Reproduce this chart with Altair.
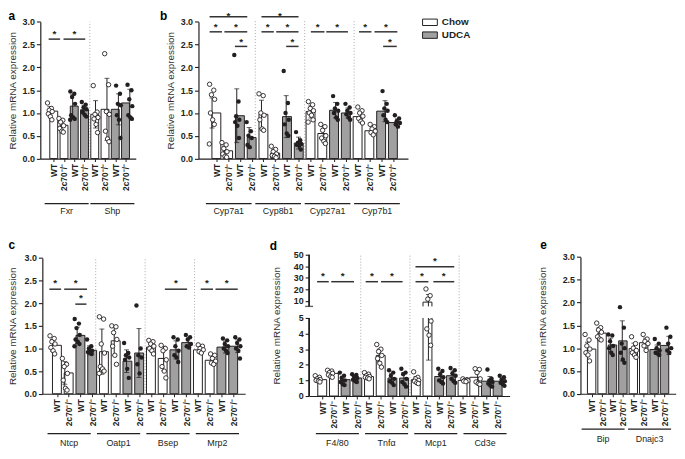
import altair as alt
import pandas as pd

FONT = "Liberation Sans"
INK = "#231f20"
BAR_GRAY = "#a0a0a0"
SEP_GRAY = "#a8a8a8"
W, H = 677, 445

GENO = ["WT", "2c70\u207b/\u207b"]
DIET = ["Chow", "UDCA"]
JITTER = [-0.2, 0.14, -0.05, 0.21, -0.13, 0.05, 0.18, -0.22]
YTITLE = "Relative mRNA expression"

# ---------------- panel a ----------------
a_genes = ["Fxr", "Shp"]
a_means = [1.04, 0.73, 1.15, 1.07, 0.97, 1.08, 1.08, 1.22]
a_sds = [0.10, 0.10, 0.25, 0.10, 0.30, 0.68, 0.34, 0.30]
a_points = [
    [1.22, 1.10, 1.06, 1.03, 0.98, 0.92, 0.85],
    [0.88, 0.84, 0.80, 0.72, 0.66, 0.60, 0.58],
    [1.47, 1.42, 1.35, 1.20, 0.95, 0.90, 0.87, 0.85],
    [1.24, 1.18, 1.12, 1.08, 1.02, 0.96, 0.92],
    [1.60, 1.02, 0.97, 0.90, 0.87, 0.75, 0.57],
    [2.30, 1.62, 1.03, 0.97, 0.60, 0.43, 0.37],
    [1.60, 1.42, 1.20, 1.17, 0.95, 0.85, 0.45],
    [1.62, 1.50, 1.30, 1.15, 0.95, 0.90, 0.87],
]
a_sig = [(-0.1, 0.9, 2.62, 2.78), (1.2, 3.1, 2.62, 2.78)]

# ---------------- panel b ----------------
b_genes = ["Cyp7a1", "Cyp8b1", "Cyp27a1", "Cyp7b1"]
b_means = [1.00, 0.17, 0.94, 0.46, 0.97, 0.12, 0.92, 0.34,
           1.03, 0.55, 1.06, 1.00, 0.92, 0.61, 1.04, 0.79]
b_sds = [0.33, 0.10, 0.59, 0.22, 0.31, 0.08, 0.46, 0.13,
         0.14, 0.15, 0.17, 0.11, 0.12, 0.07, 0.23, 0.08]
b_points = [
    [1.63, 1.50, 1.40, 1.30, 1.00, 0.85, 0.75, 0.32],
    [0.35, 0.30, 0.22, 0.15, 0.10, 0.05, 0.03],
    [2.27, 1.25, 0.93, 0.85, 0.80, 0.72, 0.45],
    [0.80, 0.60, 0.50, 0.45, 0.30, 0.25],
    [1.42, 1.38, 1.00, 0.95, 0.85, 0.65, 0.62],
    [0.27, 0.20, 0.15, 0.10, 0.07, 0.05, 0.02],
    [1.92, 1.22, 1.00, 0.85, 0.75, 0.55, 0.50],
    [0.58, 0.40, 0.35, 0.32, 0.30, 0.28, 0.20],
    [1.25, 1.18, 1.10, 1.05, 1.00, 0.95, 0.85, 0.80],
    [0.75, 0.70, 0.62, 0.50, 0.45, 0.38, 0.33],
    [1.37, 1.20, 1.10, 1.05, 1.00, 0.90, 0.85],
    [1.20, 1.12, 1.05, 1.00, 0.97, 0.90, 0.85],
    [1.13, 1.05, 1.00, 0.93, 0.88, 0.82, 0.78],
    [0.75, 0.70, 0.65, 0.60, 0.57, 0.52],
    [1.48, 1.20, 1.10, 1.05, 0.95, 0.85, 0.80],
    [0.95, 0.88, 0.82, 0.78, 0.75, 0.70],
]
b_sig = [(-0.2, 2.85, 3.11, 3.17), (-0.2, 0.8, 2.78, 2.95), (1.0, 2.85, 2.78, 2.95),
         (1.85, 2.85, 2.46, 2.62),
         (4.0, 7.0, 3.11, 3.17), (4.0, 5.0, 2.78, 2.95), (5.2, 7.0, 2.78, 2.95),
         (6.0, 7.0, 2.46, 2.62),
         (8.0, 9.1, 2.78, 2.95), (9.25, 11.0, 2.78, 2.95),
         (11.9, 12.9, 2.78, 2.95), (13.15, 15.0, 2.78, 2.95), (13.85, 14.95, 2.46, 2.62)]

# ---------------- panel c ----------------
c_genes = ["Ntcp", "Oatp1", "Bsep", "Mrp2"]
c_means = [1.07, 0.46, 1.29, 0.96, 0.93, 1.17, 0.72, 0.90,
           1.03, 0.78, 0.97, 1.13, 0.97, 0.74, 1.03, 1.05]
c_sds = [0.13, 0.25, 0.18, 0.10, 0.50, 0.32, 0.25, 0.54,
         0.10, 0.27, 0.20, 0.10, 0.07, 0.08, 0.13, 0.14]
c_points = [
    [1.28, 1.22, 1.15, 1.10, 1.02, 0.95, 0.88],
    [0.78, 0.65, 0.60, 0.45, 0.30, 0.12, 0.08],
    [1.65, 1.55, 1.45, 1.30, 1.20, 1.15, 1.10, 1.05],
    [1.20, 1.05, 1.00, 0.95, 0.92, 0.90, 0.88],
    [1.70, 1.65, 1.10, 0.90, 0.60, 0.55, 0.50, 0.45],
    [1.50, 1.48, 1.35, 1.20, 1.05, 0.85, 0.65],
    [1.12, 0.90, 0.85, 0.80, 0.75, 0.55, 0.35],
    [1.95, 1.00, 0.85, 0.80, 0.65, 0.45],
    [1.18, 1.15, 1.10, 1.05, 1.00, 0.95, 0.88],
    [1.07, 1.00, 0.95, 0.75, 0.60, 0.50, 0.35],
    [1.25, 1.20, 1.05, 0.95, 0.85, 0.80, 0.70],
    [1.30, 1.25, 1.20, 1.10, 1.05, 1.02],
    [1.08, 1.05, 1.00, 0.97, 0.93, 0.90],
    [0.88, 0.85, 0.78, 0.72, 0.68, 0.65],
    [1.22, 1.18, 1.10, 1.05, 1.00, 0.95, 0.90],
    [1.25, 1.20, 1.12, 1.05, 1.00, 0.95, 0.78],
]
c_sig = [(-0.25, 0.7, 2.31, 2.49), (0.95, 2.8, 2.31, 2.49), (1.85, 2.75, 1.98, 2.18),
         (9.1, 10.9, 2.31, 2.49), (12.0, 13.0, 2.31, 2.49), (13.2, 15.0, 2.31, 2.49)]

# ---------------- panel d ----------------
d_genes = ["F4/80", "Tnf\u03b1", "Mcp1", "Cd3e"]
d_means = [1.05, 1.45, 1.05, 1.15, 1.25, 2.60, 1.15, 1.15,
           1.05, 8.90, 1.25, 1.30, 1.00, 1.20, 0.95, 0.95]
d_sds = [0.12, 0.12, 0.22, 0.15, 0.12, 0.40, 0.30, 0.35,
         0.20, 6.60, 0.30, 0.30, 0.06, 0.35, 0.30, 0.20]
d_points = [
    [1.30, 1.20, 1.10, 1.05, 1.00, 0.95, 0.90],
    [1.65, 1.60, 1.50, 1.45, 1.35, 1.25, 1.20],
    [1.50, 1.30, 1.15, 1.00, 0.90, 0.75, 0.70],
    [1.40, 1.35, 1.25, 1.15, 1.05, 0.95, 0.90],
    [1.50, 1.40, 1.30, 1.25, 1.20, 1.15, 1.10],
    [3.30, 3.00, 2.85, 2.60, 2.40, 2.10, 1.85],
    [1.65, 1.50, 1.30, 1.10, 0.95, 0.85, 0.70],
    [1.75, 1.50, 1.40, 1.10, 0.90, 0.75, 0.60],
    [1.55, 1.20, 1.10, 1.00, 0.95, 0.85, 0.80],
    [20.3, 14.5, 11.5, 4.80, 4.30, 3.90, 3.25],
    [1.75, 1.60, 1.40, 1.20, 1.00, 0.90, 0.80],
    [1.80, 1.65, 1.45, 1.30, 1.10, 0.95, 0.85],
    [1.10, 1.05, 1.00, 0.98, 0.95, 0.92],
    [1.75, 1.70, 1.50, 1.10, 0.90, 0.80, 0.75],
    [1.70, 1.10, 1.00, 0.90, 0.80, 0.65, 0.60],
    [1.30, 1.20, 1.05, 0.95, 0.85, 0.75, 0.65],
]
d_sig = [(-0.05, 0.9, 26.6, 34.0), (1.1, 2.95, 26.6, 34.0),
         (3.9, 4.9, 26.6, 34.0), (5.15, 6.9, 26.6, 34.0),
         (7.95, 9.0, 26.6, 34.0), (9.4, 11.1, 26.6, 34.0), (7.95, 11.1, 39.5, 46.3)]
d_break = [5.0, 5.2]

# ---------------- panel e ----------------
e_genes = ["Bip", "Dnajc3"]
e_means = [0.98, 1.33, 1.07, 1.16, 0.99, 1.12, 0.97, 1.06]
e_sds = [0.15, 0.12, 0.15, 0.44, 0.12, 0.10, 0.10, 0.20]
e_points = [
    [1.30, 1.18, 1.05, 0.98, 0.90, 0.85, 0.72],
    [1.55, 1.45, 1.40, 1.35, 1.25, 1.20, 1.18],
    [1.30, 1.28, 1.15, 1.05, 1.00, 0.90, 0.85],
    [1.90, 1.45, 1.10, 1.00, 0.90, 0.75, 0.68],
    [1.25, 1.10, 1.00, 0.95, 0.90, 0.85, 0.80],
    [1.30, 1.20, 1.15, 1.10, 1.05, 0.95],
    [1.20, 1.10, 1.00, 0.95, 0.90, 0.88, 0.85],
    [1.45, 1.25, 1.10, 1.00, 0.95, 0.90],
]
e_sig = []

Y3 = [0, 0.5, 1.0, 1.5, 2.0, 2.5, 3.0]
YD = [0, 1, 2, 3, 4, 5, 10, 20, 30, 40, 50]

LEGEND = alt.Legend(
    title=None, orient="none", legendX=420, legendY=4.8, direction="vertical",
    symbolType="M-1.15,-0.5H1.15V0.5H-1.15Z", symbolSize=169,
    symbolStrokeColor=INK, symbolStrokeWidth=1,
    labelFont=FONT, labelFontSize=10, labelFontWeight="bold", labelColor=INK,
    labelOffset=5, rowPadding=0, padding=0,
)


def make_panel(genes, means, sds, points, sig, geo):
    n = len(means)
    xs = alt.Scale(domain=geo["xdom"], range=geo["xrange"], nice=False, zero=False)
    ys = alt.Scale(domain=geo["ydom"], range=geo["yrange"], nice=False, zero=False)
    xl = geo["xrange"][0]
    ybot = geo["yrange"][0]

    bdf = pd.DataFrame({
        "slot": list(range(n)),
        "diet": [DIET[(i % 4) // 2] for i in range(n)],
        "mean": means,
        "lo": [m - s for m, s in zip(means, sds)],
        "hi": [m + s for m, s in zip(means, sds)],
    })
    prow = []
    for i, vals in enumerate(points):
        for j, v in enumerate(vals):
            prow.append({"px": i + JITTER[j % len(JITTER)], "v": v, "diet": DIET[(i % 4) // 2]})
    pdf = pd.DataFrame(prow)
    sdf = pd.DataFrame(sig, columns=["x1", "x2", "y", "ya"])
    sdf["xm"] = (sdf["x1"] + sdf["x2"]) / 2
    g0, g1 = geo["under_span"]
    gdf = pd.DataFrame({
        "gene": genes,
        "g0": [4 * k + g0 for k in range(len(genes))],
        "g1": [4 * k + g1 for k in range(len(genes))],
        "gm": [4 * k + (g0 + g1) / 2 for k in range(len(genes))],
    })

    xaxis = alt.Axis(
        orient="bottom", offset=ybot - H, values=list(range(n)),
        labelExpr=f"datum.value % 2 == 0 ? '{GENO[0]}' : '{GENO[1]}'",
        labelAngle=-90, labelAlign="right", labelBaseline="middle",
        labelFlush=False, labelOverlap=False, labelPadding=2,
        labelFont=FONT, labelFontSize=8.5, labelFontWeight="bold", labelColor=INK,
        tickSize=3, tickColor=INK, tickWidth=1, domainColor=INK, domainWidth=1.2,
        grid=False, title=None,
    )
    yaxis = alt.Axis(
        orient="left", offset=-xl, values=geo["yticks"], format=geo["yfmt"],
        labelFlush=False, labelOverlap=False, labelPadding=2,
        labelFont=FONT, labelFontSize=9, labelFontWeight="bold", labelColor=INK,
        tickSize=4, tickColor=INK, tickWidth=1.1,
        domain=not geo.get("broken", False), domainColor=INK, domainWidth=1.2,
        grid=False, title=YTITLE, titleFont=FONT, titleFontSize=10,
        titleFontWeight="normal", titleColor="#333333", titlePadding=geo["title_pad"],
    )

    X = lambda f: alt.X(f, type="quantitative", scale=xs, axis=None)
    Y = lambda f: alt.Y(f, type="quantitative", scale=ys, axis=None)

    layers = []
    if geo["sep_top"] is not None and len(genes) > 1:
        sepdf = pd.DataFrame({"x": [4 * k - 0.5 for k in range(1, len(genes))],
                              "y0": geo["ydom"][0], "y1": geo["sep_top"]})
        layers.append(alt.Chart(sepdf).mark_rule(color=SEP_GRAY, strokeDash=[1, 2], strokeWidth=1)
                      .encode(x=X("x"), y=Y("y0"), y2="y1"))
    layers.append(
        alt.Chart(bdf).mark_bar(size=geo["bar_px"], stroke=INK, strokeWidth=1, orient="vertical")
        .encode(
            x=alt.X("slot:Q", scale=xs, axis=xaxis),
            y=alt.Y("mean:Q", scale=ys, axis=yaxis, stack=None),
            fill=alt.Fill("diet:N", scale=alt.Scale(domain=DIET, range=["white", BAR_GRAY]), legend=LEGEND),
        )
    )
    layers.append(alt.Chart(bdf).mark_rule(color=INK, strokeWidth=1)
                  .encode(x=X("slot"), y=Y("lo"), y2="hi"))
    for f in ["lo", "hi"]:
        layers.append(alt.Chart(bdf).mark_tick(orient="horizontal", size=5, thickness=1, color=INK)
                      .encode(x=X("slot"), y=Y(f)))
    if geo.get("broken", False):
        lo_b, hi_b = d_break
        wdf = bdf[bdf["mean"] > hi_b].assign(b0=lo_b, b1=hi_b)
        layers.append(alt.Chart(wdf).mark_bar(size=geo["bar_px"] + 3, color="white", orient="vertical")
                      .encode(x=X("slot"), y=Y("b1"), y2="b0"))
        ddf = pd.DataFrame({"xe": [geo["xdom"][0]] * 2, "y0": [geo["ydom"][0], hi_b],
                            "y1": [lo_b, geo["ydom"][-1]]})
        layers.append(alt.Chart(ddf).mark_rule(color=INK, strokeWidth=1.8)
                      .encode(x=X("xe"), y=Y("y0"), y2="y1"))
        layers.append(alt.Chart(ddf.iloc[[1]]).mark_tick(orient="horizontal", size=8, thickness=1.4, color=INK)
                      .encode(x=X("xe"), y=Y("y0")))
    layers.append(
        alt.Chart(pdf).transform_filter(alt.datum.diet == "Chow")
        .mark_point(shape="circle", filled=True, fill="white", stroke=INK, strokeWidth=0.9, size=20, opacity=1)
        .encode(x=X("px"), y=Y("v"))
    )
    layers.append(
        alt.Chart(pdf).transform_filter(alt.datum.diet == "UDCA")
        .mark_circle(color=INK, size=20, opacity=1)
        .encode(x=X("px"), y=Y("v"))
    )
    if len(sdf):
        layers.append(alt.Chart(sdf).mark_rule(color="#333333", strokeWidth=1.5)
                      .encode(x=X("x1"), x2="x2", y=Y("y")))
        layers.append(alt.Chart(sdf).mark_text(text="*", font=FONT, fontSize=10, fontWeight="bold",
                                               baseline="alphabetic", dy=5.5, color=INK)
                      .encode(x=X("xm"), y=Y("ya")))
    layers.append(alt.Chart(gdf).mark_rule(color=INK, strokeWidth=1.2)
                  .encode(x=X("g0"), x2="g1", y=alt.value(geo["under_y"])))
    layers.append(alt.Chart(gdf).mark_text(font=FONT, fontSize=9, color=INK, baseline="alphabetic")
                  .encode(x=X("gm"), y=alt.value(geo["label_y"]), text="gene:N"))
    layers.append(alt.Chart(pd.DataFrame({"t": [geo["letter"]]}))
                  .mark_text(font=FONT, fontSize=12, fontWeight="bold", align="left",
                             baseline="alphabetic", color="black")
                  .encode(x=alt.value(geo["letter_xy"][0]), y=alt.value(geo["letter_xy"][1]), text="t:N"))
    return layers


geo_a = dict(xdom=[-0.83, 7.52], xrange=[32.7, 129.3], ydom=[0, 3], yrange=[149.7, 11.3],
             yticks=Y3, yfmt=".1f", bar_px=8, title_pad=4.7, sep_top=3.0,
             under_span=(-0.45, 3.4), under_y=195.3, label_y=206, letter="a", letter_xy=(0.5, 9.5))
geo_b = dict(xdom=[-1.1, 15.86], xrange=[192.75, 404.75], ydom=[0, 3], yrange=[149.7, 11.3],
             yticks=Y3, yfmt=".1f", bar_px=9, title_pad=4.7, sep_top=3.05,
             under_span=(-0.5, 3.2), under_y=195.3, label_y=206, letter="b", letter_xy=(153.7, 9.5))
geo_c = dict(xdom=[-0.82, 15.6], xrange=[34.75, 240.0], ydom=[0, 3], yrange=[387.7, 250.3],
             yticks=Y3, yfmt=".1f", bar_px=9, title_pad=6.7, sep_top=3.0,
             under_span=(-0.4, 3.1), under_y=428, label_y=441, letter="c", letter_xy=(0.5, 241))
geo_d = dict(xdom=[-0.7, 15.6], xrange=[304.7, 507.6], ydom=[0, 5.0, 5.2, 50],
             yrange=[390, 311, 299.3, 247], yticks=YD, yfmt="d", bar_px=9, title_pad=12.2,
             sep_top=50, under_span=(-0.15, 3.35), under_y=428, label_y=441, letter="d",
             letter_xy=(265, 242), broken=True)
geo_e = dict(xdom=[-0.6, 7.6], xrange=[579.3, 675.7], ydom=[0, 3], yrange=[387.7, 249.3],
             yticks=Y3, yfmt=".1f", bar_px=8.5, title_pad=14.5, sep_top=None,
             under_span=(-0.5, 3.2), under_y=423.5, label_y=437, letter="e", letter_xy=(538.7, 241))

all_layers = (
    make_panel(a_genes, a_means, a_sds, a_points, a_sig, geo_a)
    + make_panel(b_genes, b_means, b_sds, b_points, b_sig, geo_b)
    + make_panel(c_genes, c_means, c_sds, c_points, c_sig, geo_c)
    + make_panel(d_genes, d_means, d_sds, d_points, d_sig, geo_d)
    + make_panel(e_genes, e_means, e_sds, e_points, e_sig, geo_e)
)

chart = (
    alt.layer(*all_layers)
    .resolve_scale(x="independent", y="independent")
    .resolve_axis(x="independent", y="independent")
    .properties(width=W, height=H, autosize=alt.AutoSizeParams(type="none"), padding=0)
    .configure_view(stroke=None)
)

chart.save("out.html", embed_options={"renderer": "svg", "actions": False})
